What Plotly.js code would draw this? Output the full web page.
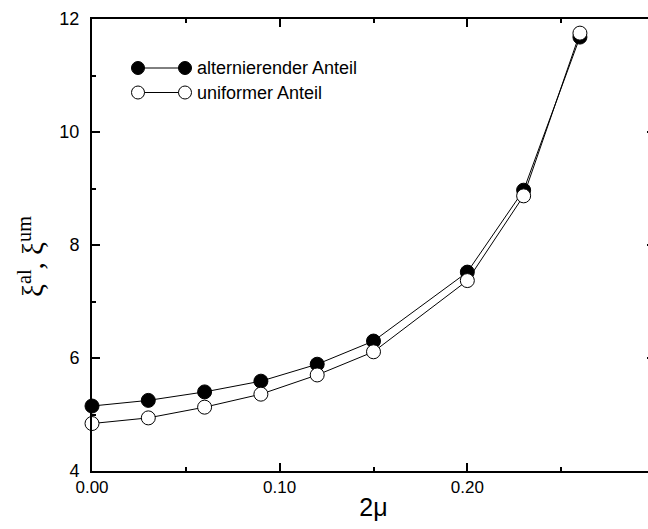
<!DOCTYPE html>
<html>
<head>
<meta charset="utf-8">
<script src="https://cdn.plot.ly/plotly-3.0.1.min.js"></script>
<style>
  html, body { margin: 0; padding: 0; overflow: hidden; background: #fff; }
  #chart { width: 660px; height: 529px; }
</style>
</head>
<body>
<div id="chart"></div>
<script>
// 2μ values and the two correlation-length components
const twoMu = [0.00, 0.03, 0.06, 0.09, 0.12, 0.15, 0.20, 0.23, 0.26];
const xiAlternating = [5.15, 5.25, 5.40, 5.59, 5.89, 6.30, 7.52, 8.97, 11.68];
const xiUniform = [4.84, 4.94, 5.13, 5.36, 5.70, 6.11, 7.37, 8.87, 11.75];
const seriesNames = ['alternierender Anteil', 'uniformer Anteil'];

// plot-area geometry in pixels (used for the hand-drawn legend glyphs)
const L = 92, R = 655, T = 19, B = 471;
const px = p => (p - L) / (R - L);
const py = p => (B - p) / (B - T);

const sans = 'Arial, "Liberation Sans", sans-serif';

const traces = [
  {
    x: twoMu, y: xiAlternating, name: seriesNames[0],
    mode: 'lines+markers', type: 'scatter',
    line: { color: '#000', width: 1 },
    marker: { symbol: 'circle', size: 14, color: '#000', line: { color: '#000', width: 1 } },
    cliponaxis: false
  },
  {
    x: twoMu, y: xiUniform, name: seriesNames[1],
    mode: 'lines+markers', type: 'scatter',
    line: { color: '#000', width: 1 },
    marker: { symbol: 'circle', size: 14, color: '#fff', line: { color: '#000', width: 1 } },
    cliponaxis: false
  }
];

// legend: a line with a marker at each end, followed by the label
const legendRows = [
  { y: 68, fill: '#000', label: seriesNames[0] },
  { y: 92.5, fill: '#fff', label: seriesNames[1] }
];
const shapes = [];
const annotations = [];
legendRows.forEach(row => {
  shapes.push({
    type: 'line', xref: 'paper', yref: 'paper',
    x0: px(138), x1: px(185), y0: py(row.y), y1: py(row.y),
    line: { color: '#000', width: 1 }
  });
  [138, 185].forEach(cx => {
    shapes.push({
      type: 'circle', xref: 'paper', yref: 'paper',
      xsizemode: 'pixel', ysizemode: 'pixel',
      xanchor: px(cx), yanchor: py(row.y),
      x0: -6.5, x1: 6.5, y0: -6.5, y1: 6.5,
      fillcolor: row.fill, line: { color: '#000', width: 1 }
    });
  });
  annotations.push({
    xref: 'paper', yref: 'paper', x: px(195), y: py(row.y),
    xanchor: 'left', yanchor: 'middle', showarrow: false,
    text: row.label,
    font: { family: sans, size: 18, color: '#000' }
  });
});

// y-axis title
annotations.push({
  xref: 'paper', yref: 'paper', x: px(31), y: py(257),
  xanchor: 'center', yanchor: 'middle', showarrow: false, textangle: -90,
  text: 'ξ<sup>al</sup>, ξ<sup>um</sup>',
  font: { family: '"Liberation Serif", "Times New Roman", serif', size: 29, color: '#000' }
});

const layout = {
  width: 660, height: 529,
  margin: { l: L, r: 660 - R, t: T, b: 529 - B },
  paper_bgcolor: '#fff', plot_bgcolor: '#fff',
  showlegend: false,
  xaxis: {
    range: [0, 0.3],
    tickvals: [0, 0.1, 0.2],
    ticktext: ['0.00', '0.10', '0.20'],
    ticks: 'inside', ticklen: 8, tickwidth: 2, tickcolor: '#000',
    minor: { tickvals: [0.05, 0.15, 0.25], ticks: 'inside', ticklen: 4, tickwidth: 2, tickcolor: '#000' },
    showline: true, linecolor: '#000', linewidth: 2, mirror: 'ticks',
    showgrid: false, zeroline: false,
    tickfont: { family: sans, size: 17, color: '#000' },
    ticklabelstandoff: 0,
    title: { text: '2μ', font: { family: sans, size: 25, color: '#000' }, standoff: 2 }
  },
  yaxis: {
    range: [4, 12],
    tickvals: [4, 6, 8, 10, 12],
    ticks: 'inside', ticklen: 8, tickwidth: 2, tickcolor: '#000',
    minor: { tickvals: [5, 7, 9, 11], ticks: 'inside', ticklen: 4, tickwidth: 2, tickcolor: '#000' },
    showline: true, linecolor: '#000', linewidth: 2, mirror: 'ticks',
    showgrid: false, zeroline: false,
    tickfont: { family: sans, size: 18, color: '#000' },
    ticklabelstandoff: 7
  },
  shapes: shapes,
  annotations: annotations
};

Plotly.newPlot('chart', traces, layout, { displayModeBar: false, staticPlot: true });
</script>
</body>
</html>
